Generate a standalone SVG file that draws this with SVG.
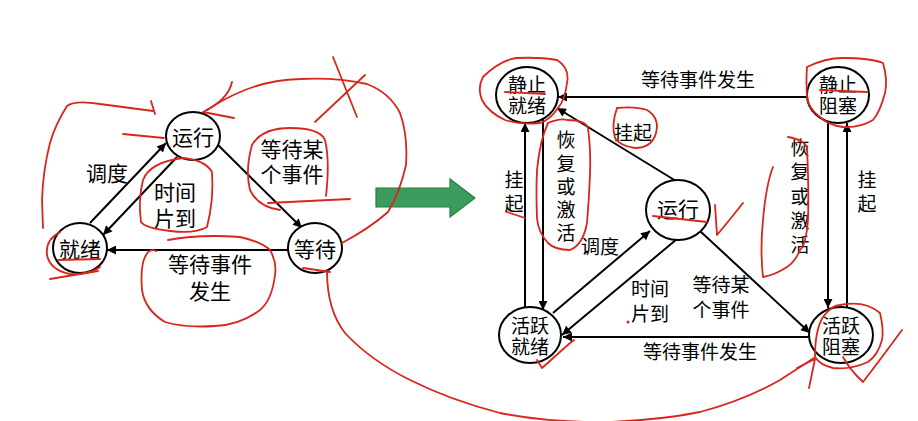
<svg xmlns="http://www.w3.org/2000/svg" width="918" height="421" viewBox="0 0 918 421">
<defs>
<marker id="ah" viewBox="0 0 10 10" refX="10" refY="5" markerWidth="11" markerHeight="9" markerUnits="userSpaceOnUse" orient="auto">
<path d="M0,0 L10,5 L0,10 z" fill="#000"/>
</marker>
<style>
.nd{fill:#fff;stroke:#000;stroke-width:2}
.ed{stroke:#000;stroke-width:2;fill:none;marker-end:url(#ah)}
.t{font-family:"Noto Sans CJK SC","Noto Sans CJK JP",sans-serif;text-anchor:middle;dominant-baseline:central;fill:#000}
.tl{font-size:21px}
.tr{font-size:19px}
.rd{fill:none;stroke:#d8261c;stroke-width:1.8;stroke-linecap:round;stroke-linejoin:round}
</style>
</defs>
<rect width="918" height="421" fill="#fff"/>

<g id="connectors">
<line class="ed" x1="90" y1="223" x2="166" y2="143"/>
<line class="ed" x1="177" y1="157" x2="103" y2="235"/>
<line class="ed" x1="217" y1="144" x2="302" y2="228"/>
<line class="ed" x1="288" y1="250" x2="107" y2="250"/>

<line class="ed" x1="807" y1="97" x2="558" y2="97"/>
<line class="ed" x1="525" y1="307" x2="525" y2="123"/>
<line class="ed" x1="543" y1="119" x2="543" y2="310"/>
<line class="ed" x1="676" y1="181" x2="557" y2="108"/>
<line class="ed" x1="553" y1="313" x2="650" y2="231"/>
<line class="ed" x1="677" y1="239" x2="562" y2="335"/>
<line class="ed" x1="700" y1="231" x2="810" y2="333"/>
<line class="ed" x1="810" y1="337" x2="563" y2="337"/>
<line class="ed" x1="828" y1="121" x2="828" y2="308"/>
<line class="ed" x1="847" y1="308" x2="847" y2="123"/>
</g>

<g id="labels" class="t">
<text class="tl" x="107" y="172">调度</text>
<text class="tl" x="175" y="191"><tspan x="175">时间</tspan><tspan x="175" dy="26">片到</tspan></text>
<text class="tl" x="292" y="148"><tspan x="292">等待某</tspan><tspan x="292" dy="25">个事件</tspan></text>
<text class="tl" x="210" y="263"><tspan x="210">等待事件</tspan><tspan x="210" dy="27">发生</tspan></text>

<text class="tr" x="698" y="78">等待事件发生</text>
<text class="tr" x="514" y="178"><tspan x="514">挂</tspan><tspan x="514" dy="24">起</tspan></text>
<text class="tr" x="566" y="138"><tspan x="566">恢</tspan><tspan x="566" dy="24">复</tspan><tspan x="566" dy="23">或</tspan><tspan x="566" dy="23">激</tspan><tspan x="566" dy="23">活</tspan></text>
<text class="tr" x="633" y="131">挂起</text>
<text class="tr" x="800" y="146"><tspan x="800">恢</tspan><tspan x="800" dy="24">复</tspan><tspan x="800" dy="25">或</tspan><tspan x="800" dy="24">激</tspan><tspan x="800" dy="24">活</tspan></text>
<text class="tr" x="867" y="178"><tspan x="867">挂</tspan><tspan x="867" dy="24">起</tspan></text>
<text class="tr" x="600" y="245">调度</text>
<text class="tr" x="650" y="287"><tspan x="650">时间</tspan><tspan x="650" dy="25">片到</tspan></text>
<text class="tr" x="721" y="283"><tspan x="721">等待某</tspan><tspan x="721" dy="25">个事件</tspan></text>
<text class="tr" x="700" y="350">等待事件发生</text>
</g>

<g id="node-running-left">
<ellipse class="nd" cx="193" cy="136" rx="27" ry="24"/>
<text class="t tl" x="193" y="136">运行</text>
</g>
<g id="node-ready-left">
<ellipse class="nd" cx="80" cy="248" rx="27" ry="25"/>
<text class="t tl" x="80" y="248">就绪</text>
</g>
<g id="node-wait-left">
<ellipse class="nd" cx="315" cy="248" rx="27" ry="25"/>
<text class="t tl" x="315" y="248">等待</text>
</g>

<g id="transform-arrow">
<path d="M376,188 L450,188 L450,179 L475,198 L450,217 L450,207 L376,207 z" fill="#3b9d5d" stroke="#2b7a45" stroke-width="1.2"/>
</g>

<g id="node-static-ready">
<ellipse class="nd" cx="527" cy="95" rx="31" ry="28"/>
<text class="t tr" x="527" y="83"><tspan x="527">静止</tspan><tspan x="527" dy="21">就绪</tspan></text>
</g>
<g id="node-static-blocked">
<ellipse class="nd" cx="838" cy="95" rx="31" ry="28"/>
<text class="t tr" x="838" y="83"><tspan x="838">静止</tspan><tspan x="838" dy="21">阻塞</tspan></text>
</g>
<g id="node-running-right">
<ellipse class="nd" cx="678" cy="210" rx="32" ry="30"/>
<text class="t tl" x="678" y="208">运行</text>
</g>
<g id="node-active-ready">
<ellipse class="nd" cx="530" cy="335" rx="31" ry="28"/>
<text class="t tr" x="530" y="324"><tspan x="530">活跃</tspan><tspan x="530" dy="21">就绪</tspan></text>
</g>
<g id="node-active-blocked">
<ellipse class="nd" cx="841" cy="335" rx="32" ry="28"/>
<text class="t tr" x="841" y="324"><tspan x="841">活跃</tspan><tspan x="841" dy="21">阻塞</tspan></text>
</g>

<g id="annotations" class="rd">
<path d="M153,111 L100,104 Q75,100 67,106 Q55,125 50,143 Q43,170 42,200 L43,228"/>
<path d="M151,101 L155,114"/>
<path d="M123,134 L164,138"/>
<path d="M232,82 Q228,100 203,112 L234,118"/>
<path d="M207,110 Q225,98 245,90 Q270,80 300,79 Q335,77 367,84 Q390,93 400,113 Q408,135 406,165 Q400,192 388,212 Q370,228 342,243"/>
<path d="M333,57 L357,117 M365,75 L315,122"/>
<path d="M326,196 Q330,160 325,140 Q320,128 290,128 Q262,128 252,145 Q245,170 250,190 Q258,207 280,210"/>
<path d="M268,203 L350,199"/>
<path d="M143,180 Q150,162 183,158 Q205,160 212,172 Q214,200 207,227 Q195,234 170,231 Q145,228 141,222 Q138,200 143,180"/>
<path d="M60,232 Q45,240 47,255 Q50,270 70,274 Q90,275 100,267"/>
<path d="M58,260 L100,259 M50,279 L98,271"/>
<path d="M168,240 Q200,234 240,237 Q262,242 270,250 Q277,262 275,275 Q272,300 260,310 Q240,325 215,326 Q185,328 165,322 Q145,310 142,290 Q140,265 146,255 Q150,248 156,251"/>
<path d="M303,268 L330,272"/>
<path d="M327,271 Q327,310 345,333 Q370,360 410,380 Q450,400 500,413 Q550,423 610,422 Q660,420 700,412 Q745,400 780,380 L814,358"/>
<path d="M797,368 L815,359 L809,388"/>
<path d="M483,77 Q500,60 517,58 Q540,57 557,60 Q570,68 567,83 Q565,100 558,108 Q550,120 540,123 Q520,125 505,120 Q488,112 482,100 Q477,88 483,77"/>
<path d="M505,92 L545,94"/>
<path d="M617,108 Q635,106 647,110 Q660,118 656,133 Q652,148 635,148 Q620,146 615,138 Q611,125 617,108"/>
<path d="M548,123 Q560,118 567,120 Q585,120 588,128 Q591,150 590,175 Q589,200 587,223 Q583,245 570,250 Q555,250 548,243 Q538,232 537,218 Q536,190 537,170 Q540,140 548,123"/>
<path d="M507,212 L525,218"/>
<path d="M653,216 L707,222"/>
<path d="M715,205 L717,235 Q728,222 743,203"/>
<path d="M788,137 Q805,140 807,148 Q809,190 808,220 Q806,245 800,250 Q795,262 787,267 Q775,275 763,277 Q760,250 763,220 Q766,185 773,167"/>
<path d="M807,67 Q825,58 843,58 Q870,58 883,63 Q888,80 885,93 Q880,112 873,120 Q860,128 843,127 Q828,125 820,117 Q808,108 807,97 Q806,80 807,67"/>
<path d="M820,90 L867,92"/>
<path d="M537,360 L542,368 L570,343 L574,340"/>
<path d="M815,357 Q815,330 823,317 Q832,305 840,305 Q865,300 880,313 Q884,330 882,340 Q878,355 868,362 Q850,370 833,368 Q820,365 815,357"/>
<path d="M843,357 Q850,370 863,382 Q880,360 902,330"/>
<circle cx="628" cy="322" r="1.5" fill="#d8261c" stroke="none"/>
</g>
</svg>
